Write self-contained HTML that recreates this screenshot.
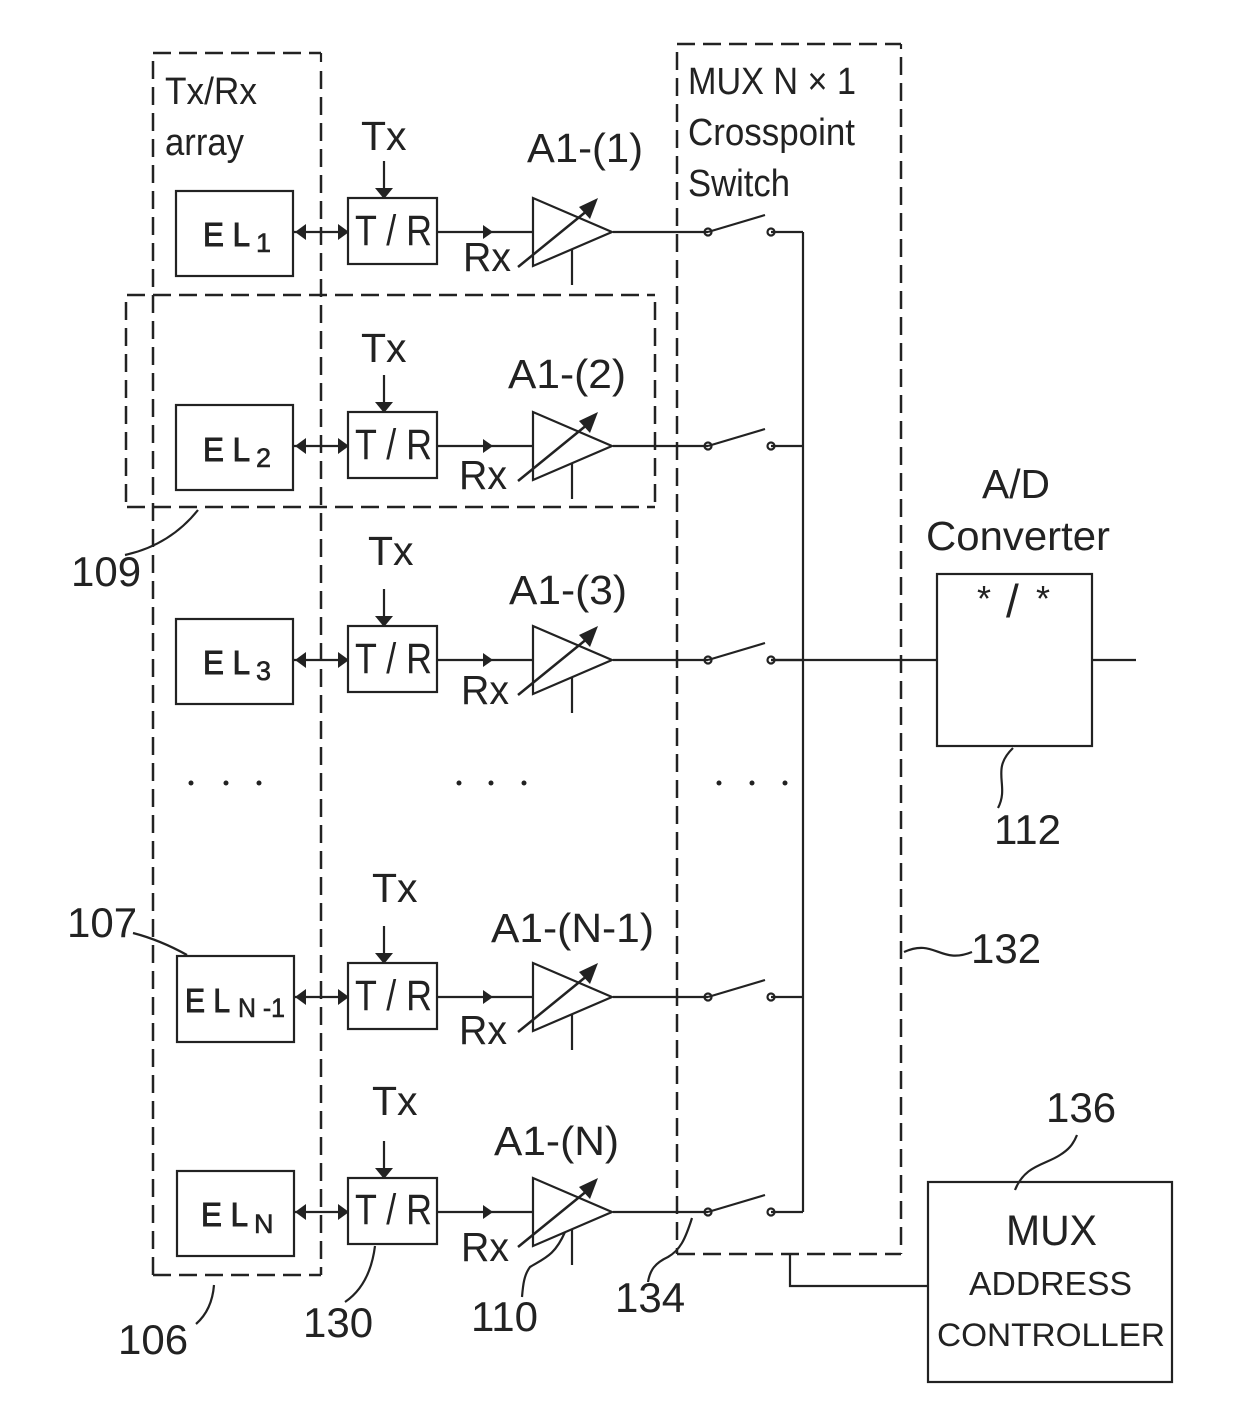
<!DOCTYPE html>
<html><head><meta charset="utf-8"><style>
html,body{margin:0;padding:0;background:#fff}
svg{display:block}
text{font-family:"Liberation Sans",sans-serif;fill:#222}
.d{fill:none;stroke:#222;stroke-width:2.5;stroke-dasharray:18 8}
.s{fill:none;stroke:#222;stroke-width:2.2}
.t{font-size:41px}
.c{font-size:38px}
.n{font-size:42px}
.el{font-size:33px;stroke:#222;stroke-width:1}
.sub{font-size:27px;stroke:#222;stroke-width:.6}
.tr{font-size:43px}
</style></head><body>
<svg width="1240" height="1427" viewBox="0 0 1240 1427" xmlns="http://www.w3.org/2000/svg">
<defs>
<g id="row">
<path class="s" d="M294 0H348M437 0H533M613 0H708M708 0L765 -17M771 0H803"/>
<path d="M295 0l11 -8v16zM349 0l-11 -8v16z" fill="#222"/>
<path d="M493 0l-10 -7v14z" fill="#222"/>
<rect class="s" x="348" y="-34" width="89" height="66"/>
<path class="s" d="M533 -34V34L612 0Z"/>
<path d="M518 35L588 -22" stroke="#222" stroke-width="2.5"/>
<path d="M598 -34l-19 9 11 12z" fill="#222"/>
<path class="s" d="M572 17V53"/>
<circle class="s" cx="708" cy="0" r="3.5" fill="#fff"/><circle class="s" cx="771" cy="0" r="3.5" fill="#fff"/>
<path class="s" d="M384 -71V-38"/>
<path d="M384 -33l-9 -11h18z" fill="#222"/>
</g>
</defs>
<rect width="1240" height="1427" fill="#fff"/>
<use href="#row" y="232"/><use href="#row" y="446"/><use href="#row" y="660"/><use href="#row" y="997"/><use href="#row" y="1212"/>
<rect class="s" x="176" y="191" width="117" height="85"/><rect class="s" x="176" y="405" width="117" height="85"/><rect class="s" x="176" y="619" width="117" height="85"/><rect class="s" x="177" y="956" width="117" height="86"/><rect class="s" x="177" y="1171" width="117" height="85"/>
<path class="d" d="M153 53H321"/><path class="d" d="M153 1275H321"/><path class="d" d="M153 61V1275"/><path class="d" d="M321 71V1275"/><path class="s" d="M321 53V62"/>
<path class="d" d="M127 295H655"/><path class="d" d="M127 507H655"/><path class="d" d="M126 302V507"/><path class="d" d="M655 302V507"/>
<path class="d" d="M677 44H901"/><path class="d" d="M677 1254H901"/><path class="d" d="M677 52V1254"/><path class="d" d="M901 57V1254"/><path class="s" d="M901 44V49"/>
<path class="s" d="M803 232V1212M771 660H937M1092 660H1136M790 1254V1286H928"/>
<rect class="s" x="937" y="574" width="155" height="172"/>
<rect class="s" x="928" y="1182" width="244" height="200"/>
<path class="s" d="M133 933Q160 940 187 955M198 510Q170 545 125 555M1013 748C990 770 1010 785 998 808M904 952C935 938 940 965 972 952M214 1285Q212 1310 196 1324M375 1246Q370 1285 345 1302M565 1232C555 1255 545 1258 530 1267C524 1275 523 1285 522 1297M692 1218C685 1240 680 1250 668 1257C655 1263 650 1270 648 1282M1015 1190C1025 1165 1045 1165 1060 1155C1068 1150 1073 1145 1077 1135"/>
<text class="c" x="165" y="104" textLength="92" lengthAdjust="spacingAndGlyphs">Tx/Rx</text><text class="c" x="165" y="155" textLength="79" lengthAdjust="spacingAndGlyphs">array</text>
<text class="c" x="688" y="94" textLength="168" lengthAdjust="spacingAndGlyphs">MUX N × 1</text><text class="c" x="688" y="145" textLength="167" lengthAdjust="spacingAndGlyphs">Crosspoint</text><text class="c" x="688" y="196" textLength="102" lengthAdjust="spacingAndGlyphs">Switch</text>
<text class="t" x="361" y="150">Tx</text><text class="t" x="361" y="362">Tx</text><text class="t" x="368" y="565">Tx</text><text class="t" x="372" y="902">Tx</text><text class="t" x="372" y="1115">Tx</text>
<text class="t" x="463" y="271" textLength="48" lengthAdjust="spacingAndGlyphs">Rx</text><text class="t" x="459" y="489" textLength="48" lengthAdjust="spacingAndGlyphs">Rx</text><text class="t" x="461" y="704" textLength="48" lengthAdjust="spacingAndGlyphs">Rx</text><text class="t" x="459" y="1044" textLength="48" lengthAdjust="spacingAndGlyphs">Rx</text><text class="t" x="461" y="1261" textLength="48" lengthAdjust="spacingAndGlyphs">Rx</text>
<text class="t" x="527" y="162" textLength="116" lengthAdjust="spacingAndGlyphs">A1-(1)</text><text class="t" x="508" y="388" textLength="118" lengthAdjust="spacingAndGlyphs">A1-(2)</text><text class="t" x="509" y="604" textLength="118" lengthAdjust="spacingAndGlyphs">A1-(3)</text><text class="t" x="491" y="942" textLength="163" lengthAdjust="spacingAndGlyphs">A1-(N-1)</text><text class="t" x="494" y="1155" textLength="125" lengthAdjust="spacingAndGlyphs">A1-(N)</text>
<text class="tr" x="355" y="245" textLength="77" lengthAdjust="spacingAndGlyphs">T / R</text><text class="tr" x="355" y="459" textLength="77" lengthAdjust="spacingAndGlyphs">T / R</text><text class="tr" x="355" y="673" textLength="77" lengthAdjust="spacingAndGlyphs">T / R</text><text class="tr" x="355" y="1010" textLength="77" lengthAdjust="spacingAndGlyphs">T / R</text><text class="tr" x="355" y="1224" textLength="77" lengthAdjust="spacingAndGlyphs">T / R</text>
<text class="el" x="203" y="246" textLength="47" lengthAdjust="spacingAndGlyphs">E L</text><text class="sub" x="256" y="252">1</text>
<text class="el" x="203" y="461" textLength="47" lengthAdjust="spacingAndGlyphs">E L</text><text class="sub" x="256" y="467">2</text>
<text class="el" x="203" y="674" textLength="47" lengthAdjust="spacingAndGlyphs">E L</text><text class="sub" x="256" y="680">3</text>
<text class="el" x="185" y="1012" textLength="45" lengthAdjust="spacingAndGlyphs">E L</text><text class="sub" x="238" y="1017" textLength="47" lengthAdjust="spacingAndGlyphs">N -1</text>
<text class="el" x="201" y="1226" textLength="47" lengthAdjust="spacingAndGlyphs">E L</text><text class="sub" x="254" y="1233">N</text>
<g fill="#222"><circle cx="191" cy="783" r="2.5"/><circle cx="226" cy="783" r="2.5"/><circle cx="259" cy="783" r="2.5"/><circle cx="459" cy="783" r="2.5"/><circle cx="491" cy="783" r="2.5"/><circle cx="524" cy="783" r="2.5"/><circle cx="719" cy="783" r="2.5"/><circle cx="752" cy="783" r="2.5"/><circle cx="785" cy="783" r="2.5"/></g>
<text class="t" x="982" y="498" textLength="68" lengthAdjust="spacingAndGlyphs">A/D</text><text class="t" x="926" y="550" textLength="184" lengthAdjust="spacingAndGlyphs">Converter</text>
<text x="977" y="611" style="font-size:36px">*</text><text x="1036" y="611" style="font-size:36px">*</text><text x="1006" y="617" style="font-size:46px">/</text>
<text style="font-size:43px" x="1006" y="1245" textLength="91" lengthAdjust="spacingAndGlyphs">MUX</text>
<text x="969" y="1295" textLength="163" lengthAdjust="spacingAndGlyphs" style="font-size:33px">ADDRESS</text>
<text x="937" y="1346" textLength="228" lengthAdjust="spacingAndGlyphs" style="font-size:32px">CONTROLLER</text>
<text class="n" x="71" y="586">109</text><text class="n" x="67" y="937">107</text><text class="n" x="994" y="844">112</text><text class="n" x="971" y="963">132</text><text class="n" x="118" y="1354">106</text><text class="n" x="303" y="1337">130</text><text class="n" x="471" y="1331">110</text><text class="n" x="615" y="1312">134</text><text class="n" x="1046" y="1122">136</text>
</svg>
</body></html>
